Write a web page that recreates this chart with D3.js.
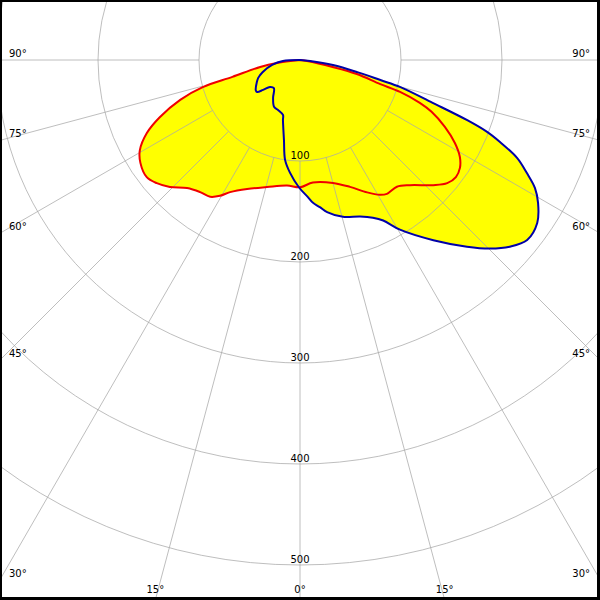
<!DOCTYPE html>
<html>
<head>
<meta charset="utf-8">
<script src="https://cdn.jsdelivr.net/npm/d3@7"></script>
<style>
  html, body { margin: 0; padding: 0; background: #fff; }
  svg { display: block; }
  text { font-family: "DejaVu Sans", Verdana, sans-serif; font-size: 10px; fill: #000; }
</style>
</head>
<body>
<script>
// ---- data (angle in degrees from nadir, + to the right; intensity in cd) ----
const redAngles = [-90, -82.6, -80.1, -76, -74.4, -71.6, -67.8, -64.5, -60.6, -57.2, -52.6, -49.3, -45.7, -41.4, -37.1, -33.3, -30.5, -27.9, -22.3, -14.6, -5.9, 0, 6, 15, 21.5, 26.9, 30.6, 33, 37.4, 41.3, 46.8, 50.1, 53.1, 56, 58.8, 61.8, 65.2, 68.5, 70.3, 72.3, 73.3, 76.2, 78, 81.9, 90];
const redValues = [0, 23, 40, 69, 100, 125, 150, 168, 182, 188, 191, 187, 180, 169, 164, 162, 156, 148, 138, 130, 125, 126, 122, 126, 135, 147, 155, 158, 158, 165, 181, 190, 193, 191, 185, 174, 158, 140, 126, 104, 83, 58, 33, 7, 0];

const blueAngles = [-90, -86.6, -79.9, -72, -66.8, -62.9, -55.7, -53.3, -51, -48, -42.9, -35.4, -29, -23.7, -17.2, -15.8, -11.3, -8.5, -5.1, -0.5, 3.3, 5.2, 7.7, 10.1, 15.3, 21, 24.8, 27.4, 30.5, 36.5, 41.8, 45.2, 48.3, 51.6, 55.5, 59, 61.4, 63.5, 65.7, 67.7, 69, 70.2, 72.1, 74.9, 76, 78.1, 81.4, 84.3, 90];
const blueValues = [0, 17, 28, 39, 45, 48, 53, 53, 47, 40, 38, 46, 53, 54, 57, 62, 81, 100, 112, 126, 136, 142, 147, 153, 161, 166, 172, 179, 195, 222, 248, 265, 278, 287, 285, 275, 265, 251, 236, 214, 198, 176, 138, 103, 82, 58, 33, 10, 0];

const ringValues = [100, 200, 300, 400, 500];
const spokeAngles = [-90, -75, -60, -45, -30, -15, 0, 15, 30, 45, 60, 75, 90];

// ---- layout ----
const W = 600, H = 600;
const cx = 300, cy = 60;
const r = d3.scaleLinear().domain([0, 500]).range([0, 505]);
const rad = d => d * Math.PI / 180;

const svg = d3.select("body").append("svg").attr("width", W).attr("height", H);
svg.append("defs").append("clipPath").attr("id", "clip")
  .append("rect").attr("x", 0).attr("y", 0).attr("width", W).attr("height", H);

const g = svg.append("g").attr("clip-path", "url(#clip)")
  .append("g").attr("transform", `translate(${cx},${cy})`);

// angle from nadir -> d3 radial angle (clockwise from 12 o'clock)
const line = d3.lineRadial()
  .angle(d => Math.PI - rad(d[0]))
  .radius(d => r(d[1]))
  .curve(d3.curveCatmullRomClosed.alpha(0.5));

const red = redAngles.map((a, i) => [a, redValues[i]]);
const blue = blueAngles.map((a, i) => [a, blueValues[i]]);

// fill (union)
g.append("path").attr("d", line(red)).attr("fill", "#ffff00");
g.append("path").attr("d", line(blue)).attr("fill", "#ffff00");

// grid
const grid = g.append("g").attr("stroke", "#a8a8a8").attr("stroke-opacity", 0.75).attr("fill", "none");
grid.selectAll("circle").data(ringValues).join("circle")
  .attr("r", d => r(d)).attr("stroke-width", 1);
grid.selectAll("line").data(spokeAngles).join("line")
  .attr("x1", d => r(100) * Math.sin(rad(d)))
  .attr("y1", d => r(100) * Math.cos(rad(d)))
  .attr("x2", d => 1200 * Math.sin(rad(d)))
  .attr("y2", d => 1200 * Math.cos(rad(d)))
  .attr("stroke-width", 1);

// curves
g.append("path").attr("d", line(red)).attr("fill", "none")
  .attr("stroke", "#f00000").attr("stroke-width", 2).attr("stroke-linejoin", "round");
g.append("path").attr("d", line(blue)).attr("fill", "none")
  .attr("stroke", "#0000a8").attr("stroke-width", 2).attr("stroke-linejoin", "round");

// ring labels
g.selectAll("text.ring").data(ringValues).join("text").attr("class", "ring")
  .attr("x", 0).attr("y", d => r(d) - 2).attr("text-anchor", "middle").text(d => d);

// angle labels at the edge of the frame
spokeAngles.forEach(a => {
  const s = Math.sin(rad(a)), c = Math.cos(rad(a));
  let lab = Math.abs(a) + "\u00B0";
  let bx = null;
  if (c > 1e-6) {
    const t = (H - cy) / c;
    const x = cx + t * s;
    if (x >= 0 && x <= W) bx = x;
  }
  if (bx !== null) {
    svg.append("text").attr("x", bx).attr("y", 593).attr("text-anchor", "middle").text(lab);
  } else {
    const t = (a < 0 ? cx : W - cx) / Math.abs(s);
    const y = cy + t * c;
    svg.append("text")
      .attr("x", a < 0 ? 9 : 590)
      .attr("y", y - 3)
      .attr("text-anchor", a < 0 ? "start" : "end")
      .text(lab);
  }
});

// frame
svg.append("rect").attr("x", 0).attr("y", 0).attr("width", 2).attr("height", H).attr("fill", "#000");
svg.append("rect").attr("x", 0).attr("y", 0).attr("width", W).attr("height", 2).attr("fill", "#000");
svg.append("rect").attr("x", W - 3).attr("y", 0).attr("width", 3).attr("height", H).attr("fill", "#000");
svg.append("rect").attr("x", 0).attr("y", H - 3).attr("width", W).attr("height", 3).attr("fill", "#000");
</script>
</body>
</html>
